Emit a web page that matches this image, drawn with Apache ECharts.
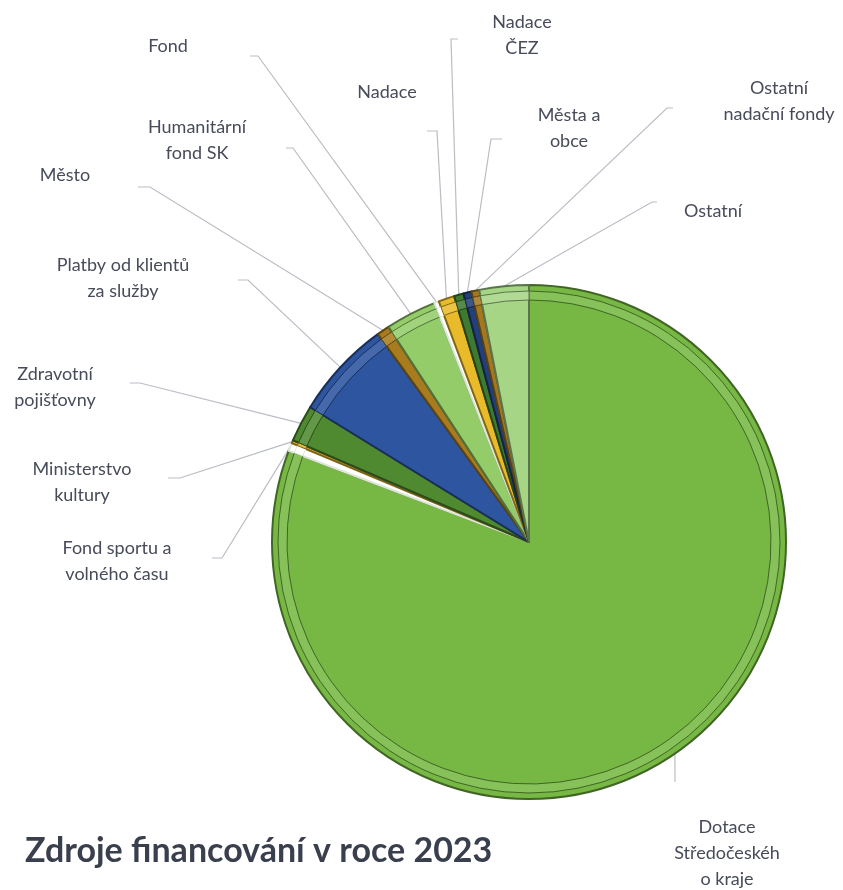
<!DOCTYPE html>
<html>
<head>
<meta charset="utf-8">
<script src="https://cdn.jsdelivr.net/npm/echarts@6/dist/echarts.min.js"></script>
<style>
html,body{margin:0;padding:0;background:#fff;}
#c{width:843px;height:890px;}
</style>
</head>
<body>
<div id="c"></div>
<script>
// ---- data ----
const categories = [
  'Dotace Středočeského kraje',
  'Fond sportu a volného času',
  'Ministerstvo kultury',
  'Zdravotní pojišťovny',
  'Platby od klientů za služby',
  'Město',
  'Humanitární fond SK',
  'Fond',
  'Nadace',
  'Nadace ČEZ',
  'Města a obce',
  'Ostatní nadační fondy',
  'Ostatní'
];
const labelTexts = [
  'Dotace\nStředočeskéh\no kraje',
  'Fond sportu a\nvolného času',
  'Ministerstvo\nkultury',
  'Zdravotní\npojišťovny',
  'Platby od klientů\nza služby',
  'Město',
  'Humanitární\nfond SK',
  'Fond',
  'Nadace',
  'Nadace\nČEZ',
  'Města a\nobce',
  'Ostatní\nnadační fondy',
  'Ostatní'
];
const shares = [80.7, 0.5, 0.2, 2.3, 6.2, 0.8, 3.2, 0.3, 1.0, 0.6, 0.5, 0.5, 3.1];
const titleText = 'Zdroje financování v roce 2023';

// ---- styles / layout ----
const colors = ['#76b843','#ffffff','#e2b22a','#4f8a30','#2d55a0','#a87c1e','#94cc6a','#ffffff','#e9bb2a','#3f7a31','#24407a','#a37820','#a6d586'];
const labelPos = [[727,853],[117,561],[82,482],[55,387],[123,278],[65,175],[197,140],[168,46],[387,92],[522,35],[569,128],[779,101],[713,211]];
const lineEnd  = [[675,782],[222,558],[180,478],[140,383],[248,280],[150,187],[293,148],[258,56],[437,131],[451,39],[491,139],[667,108],[652,202]];
const lineTick = [[675,782],[212,558],[168,478],[130,383],[238,280],[138,187],[286,148],[250,56],[427,131],[458,39],[502,139],[673,108],[657,202]];

function shade(hex, f) {
  const n = parseInt(hex.slice(1), 16);
  let r = (n >> 16) & 255, g = (n >> 8) & 255, b = n & 255;
  if (f < 0) { r = r * (1 + f); g = g * (1 + f); b = b * (1 + f); }
  else { r = r + (255 - r) * f; g = g + (255 - g) * f; b = b + (255 - b) * f; }
  return 'rgb(' + Math.round(r) + ',' + Math.round(g) + ',' + Math.round(b) + ')';
}
function borderOf(c) { return c === '#ffffff' ? '#dde6d6' : shade(c, -0.45); }

const baseData = categories.map((n, i) => ({
  name: n, value: shares[i],
  itemStyle: { color: colors[i], borderColor: borderOf(colors[i]) }
}));
const ringData = categories.map((n, i) => ({
  name: n, value: shares[i],
  itemStyle: { color: colors[i] === '#ffffff' ? '#ffffff' : shade(colors[i], 0.12), borderColor: borderOf(colors[i]) }
}));

const chart = echarts.init(document.getElementById('c'), null, { renderer: 'canvas' });
chart.setOption({
  backgroundColor: '#ffffff',
  animation: false,
  title: {
    text: titleText, left: 20, top: 829,
    textStyle: { fontFamily: 'Lato', fontWeight: 'bold', fontSize: 34, color: '#3a3f4d' }
  },
  series: [
    {
      type: 'pie', center: [529, 542], radius: [0, 257], startAngle: 90, clockwise: true,
      avoidLabelOverlap: false, silent: true,
      itemStyle: { borderWidth: 2 },
      label: {
        show: true, position: 'outside',
        formatter: p => labelTexts[p.dataIndex],
        fontFamily: 'Lato', fontSize: 18, lineHeight: 26, color: '#474b5a', align: 'center'
      },
      labelLine: { show: true, length: 20, length2: 10, lineStyle: { color: '#b9bdc4', width: 1.2 } },
      labelLayout: function (p) {
        const i = p.dataIndex;
        const s = (p.labelLinePoints && p.labelLinePoints[0]) ? p.labelLinePoints[0] : lineEnd[i];
        return {
          x: labelPos[i][0], y: labelPos[i][1], align: 'center', verticalAlign: 'middle',
          labelLinePoints: [s, lineEnd[i], lineTick[i]]
        };
      },
      data: baseData
    },
    {
      type: 'pie', center: [529, 542], radius: [242, 251], startAngle: 90, clockwise: true,
      silent: true, label: { show: false }, labelLine: { show: false },
      itemStyle: { borderWidth: 1 },
      data: ringData
    }
  ]
});
</script>
</body>
</html>
